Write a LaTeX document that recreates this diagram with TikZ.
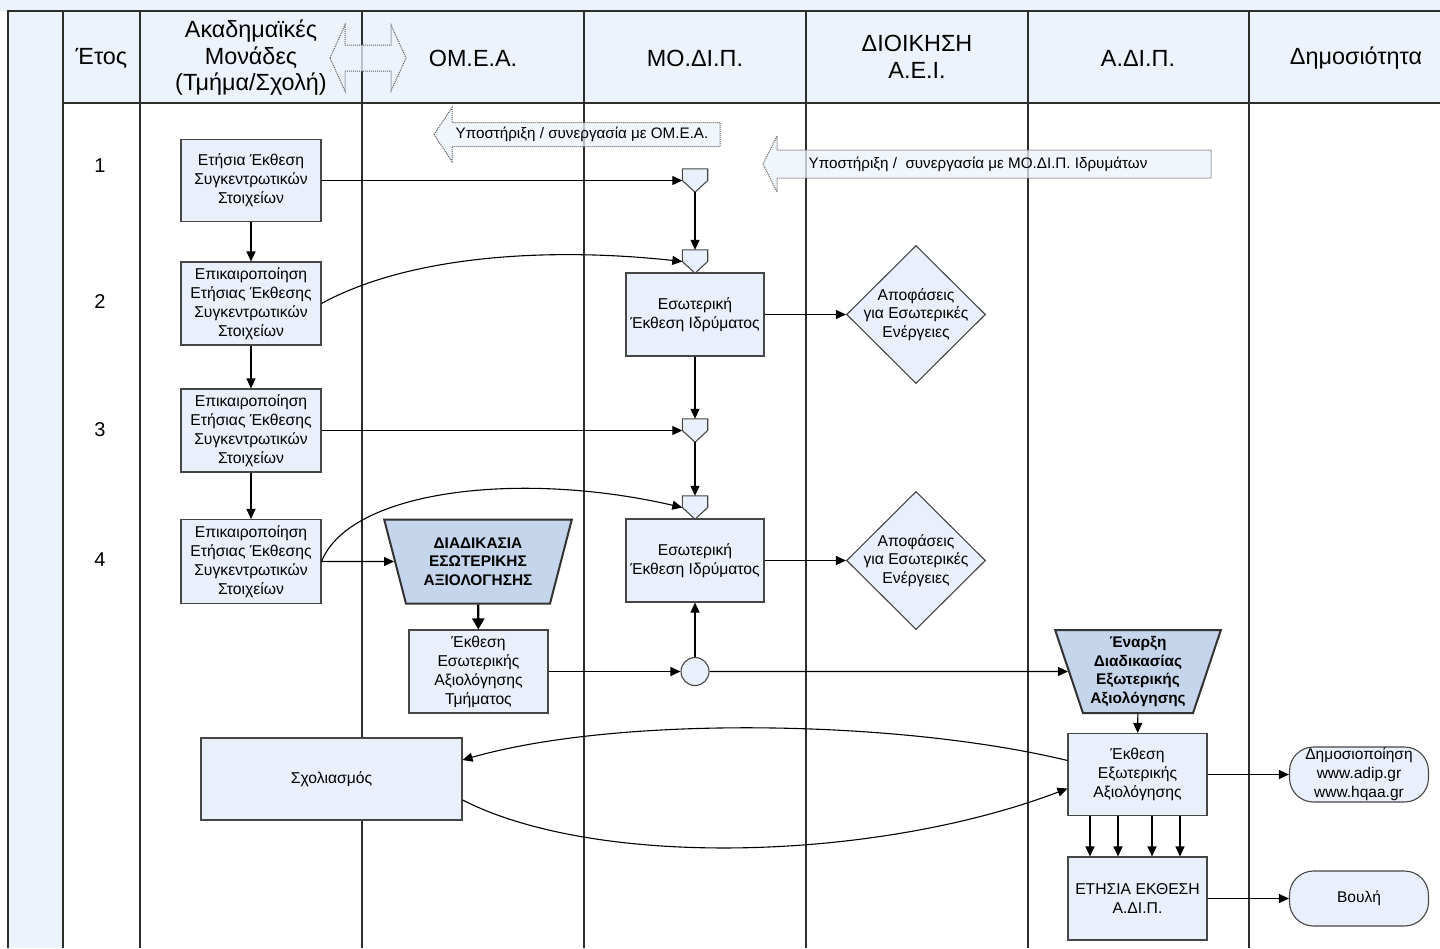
\documentclass[tikz,border=0pt]{standalone}
\usepackage{fontspec}
\setmainfont{Liberation Sans}
\usetikzlibrary{arrows.meta,shapes.geometric,calc}
\definecolor{lightbg}{RGB}{237,243,252}
\definecolor{boxfill}{RGB}{233,240,251}
\definecolor{trapfill}{RGB}{197,213,236}
\definecolor{bordc}{RGB}{70,70,70}
\definecolor{lanec}{RGB}{45,45,45}
\definecolor{dotc}{RGB}{95,95,95}
\begin{document}
\begin{tikzpicture}[x=1pt,y=-1pt,
  proc/.style={rectangle, draw=bordc, fill=boxfill, line width=1.1pt, align=center, inner sep=0pt, font=\fontsize{15.7}{19}\selectfont},
  trap/.style={trapezium, trapezium left angle=71, trapezium right angle=71, shape border rotate=180, trapezium stretches=true, draw=black!80, fill=trapfill, line width=2pt, align=center, inner sep=0pt, font=\fontsize{15.4}{18.5}\selectfont\bfseries},
  decis/.style={diamond, draw=bordc, fill=boxfill, line width=1.1pt, inner sep=0pt, minimum width=139pt, minimum height=138pt},
  dtext/.style={align=center, inner sep=0pt, font=\fontsize{15.7}{18.5}\selectfont},
  term/.style={rectangle, rounded corners=24pt, draw=bordc, fill=boxfill, line width=1.1pt, align=center, inner sep=0pt, minimum width=139pt, minimum height=55pt, font=\fontsize{15.5}{19}\selectfont},
  mergebox/.style={rectangle, draw=none, inner sep=0pt, minimum width=25pt, minimum height=23pt},
  mergeline/.style={draw=bordc, fill=boxfill, line width=1.1pt, line join=miter},
  hdr/.style={align=center, inner sep=0pt, font=\fontsize{23.4}{26.5}\selectfont},
  yr/.style={inner sep=0pt, font=\fontsize{20}{24}\selectfont},
  smalltxt/.style={inner sep=0pt, font=\fontsize{15.2}{17}\selectfont},
  dotarrow/.style={draw=dotc, densely dotted, line width=1pt, fill=lightbg, fill opacity=0.75},
  lane/.style={draw=lanec, line width=1.2pt},
  arr/.style={-{Triangle[length=10pt,width=9pt]}, line width=1.1pt, black},
  arrthick/.style={-{Triangle[length=11pt,width=12pt]}, line width=2.4pt, black}
]
\useasboundingbox (0,0) rectangle (1440,948);
% backgrounds
\fill[white] (0,0) rectangle (1440,948);
\fill[lightbg] (0,0) rectangle (1440,11);
\fill[lightbg] (8,11) rectangle (63,948);
\fill[lightbg] (63,11) rectangle (1440,103);
% lanes
\foreach \lx in {140,362,584,806,1028,1249} \draw[lane] (\lx,11) -- (\lx,948);
\draw[lane] (63,103) -- (1440,103);
\draw[lanec, line width=2pt] (63,11) -- (63,948);
\draw[lanec, line width=2.6pt] (1440,11) -- (8,11) -- (8,948);

% header
\node[hdr] (h0) at (101.5,58) {Έτος};
\node[hdr] (h1) at (251,58) {Ακαδημαϊκές\\Μονάδες\\(Τμήμα/Σχολή)};
\node[hdr] (h2) at (473,58) {ΟΜ.Ε.Α.};
\node[hdr] (h3) at (695,58) {ΜΟ.ΔΙ.Π.};
\node[hdr] (h4) at (917,57) {ΔΙΟΙΚΗΣΗ\\Α.Ε.Ι.};
\node[hdr] (h5) at (1138,58) {Α.ΔΙ.Π.};
\node[hdr] (h6) at (1356,58) {Δημοσιότητα};

% dotted arrows
\path[dotarrow] (330,58) -- (345,25) -- (345,45) -- (391,45) -- (391,25) -- (406,58) -- (391,91) -- (391,71) -- (345,71) -- (345,91) -- cycle;
\path[dotarrow] (434,134.5) -- (452,107.5) -- (452,122.5) -- (720,122.5) -- (720,146.5) -- (452,146.5) -- (452,161.5) -- cycle;
\node[smalltxt] (s1) at (582,134.5) {Υποστήριξη / συνεργασία με ΟΜ.Ε.Α.};
\path[dotarrow] (763,164) -- (777,136) -- (777,150) -- (1211,150) -- (1211,178) -- (777,178) -- (777,192) -- cycle;
\node[smalltxt] (s2) at (978,164) {Υποστήριξη /\ \ συνεργασία με ΜΟ.ΔΙ.Π. Ιδρυμάτων};

% years
\node[yr] (y1) at (100,166) {1};
\node[yr] (y2) at (100,302) {2};
\node[yr] (y3) at (100,430) {3};
\node[yr] (y4) at (100,560) {4};

% academic units
\node[proc, minimum width=140pt, minimum height=82pt] (a1) at (251,180.5) {Ετήσια Έκθεση\\Συγκεντρωτικών\\Στοιχείων};
\node[proc, minimum width=140pt, minimum height=83pt] (a2) at (251,303.5) {Επικαιροποίηση\\Ετήσιας Έκθεσης\\Συγκεντρωτικών\\Στοιχείων};
\node[proc, minimum width=140pt, minimum height=83pt] (a3) at (251,430.5) {Επικαιροποίηση\\Ετήσιας Έκθεσης\\Συγκεντρωτικών\\Στοιχείων};
\node[proc, minimum width=140pt, minimum height=84pt] (a4) at (251,561.5) {Επικαιροποίηση\\Ετήσιας Έκθεσης\\Συγκεντρωτικών\\Στοιχείων};

% MODIP
\node[proc, minimum width=138pt, minimum height=83pt] (b1) at (695,314.5) {Εσωτερική\\Έκθεση Ιδρύματος};
\node[proc, minimum width=138pt, minimum height=83pt] (b2) at (695,560.5) {Εσωτερική\\Έκθεση Ιδρύματος};
\node[mergebox] (m1) at (695,180.5) {};
\node[mergebox] (m2) at (695,261.5) {};
\node[mergebox] (m3) at (695,430.5) {};
\node[mergebox] (m4) at (695,507.5) {};
\foreach \m in {m1,m2,m3,m4}
  \path[mergeline] (\m.north west) -- (\m.north east) -- (\m.east) -- (\m.south) -- (\m.west) -- cycle;
\node[circle, draw=bordc, fill=boxfill, line width=1.1pt, minimum size=28pt, inner sep=0pt] (c) at (695,671.5) {};

% decisions
\node[decis] (d1) at (916,314.5) {};
\node[dtext] (d1t) at (916,314.5) {Αποφάσεις\\για Εσωτερικές\\Ενέργειες};
\node[decis] (d2) at (916,560.5) {};
\node[dtext] (d2t) at (916,560.5) {Αποφάσεις\\για Εσωτερικές\\Ενέργειες};

% OMEA
\node[trap, minimum width=188pt, minimum height=84pt] (t1) at (478,561.5) {ΔΙΑΔΙΚΑΣΙΑ\\ΕΣΩΤΕΡΙΚΗΣ\\ΑΞΙΟΛΟΓΗΣΗΣ};
\node[proc, minimum width=139pt, minimum height=83pt] (e1) at (478.5,671.5) {Έκθεση\\Εσωτερικής\\Αξιολόγησης\\Τμήματος};

% ADIP
\node[trap, minimum width=166pt, minimum height=83pt] (t2) at (1138,671.5) {Έναρξη\\Διαδικασίας\\Εξωτερικής\\Αξιολόγησης};
\node[proc, minimum width=139pt, minimum height=82pt] (f1) at (1137.5,774.5) {Έκθεση\\Εξωτερικής\\Αξιολόγησης};
\node[proc, minimum width=139pt, minimum height=83pt] (g) at (1137.5,898.5) {ΕΤΗΣΙΑ ΕΚΘΕΣΗ\\Α.ΔΙ.Π.};
\node[proc, minimum width=261pt, minimum height=82pt] (sch) at (331.5,779) {Σχολιασμός};

% public
\node[term] (pub) at (1359,774.5) {Δημοσιοποίηση\\www.adip.gr\\www.hqaa.gr};
\node[term] (vouli) at (1359,898.5) {Βουλή};

% connectors
\draw[arr] (a1) -- (a2);
\draw[arr] (a2) -- (a3);
\draw[arr] (a3) -- (a4);
\draw[arr] (a1.east) -- (m1.west);
\draw[arr] (m1.south) -- (m2.north);
\draw[arr] (a2.east) .. controls (410,255) and (550,247) .. (m2.west);
\draw[arr] (b1.east) -- (d1.west);
\draw[arr] (b1.south) -- (m3.north);
\draw[arr] (a3.east) -- (m3.west);
\draw[arr] (m3.south) -- (m4.north);
\draw[arr] (a4.east) .. controls (350,490) and (520,470) .. (m4.west);
\draw[arr] (a4.east) -- (t1);
\draw[arrthick] (t1) -- (e1);
\draw[arr] (b2.east) -- (d2.west);
\draw[arr] (e1.east) -- (c.west);
\draw[arr] (c.north) -- (b2.south);
\draw[arr] (c.east) -- (t2);
\draw[arr] (t2) -- (f1);
\draw[arr] ([yshift=14pt]f1.west) .. controls (900,720) and (620,715) .. ([yshift=19pt]sch.east);
\draw[arr] ([yshift=-21pt]sch.east) .. controls (600,870) and (880,860) .. ([yshift=-14pt]f1.west);
\draw[arr] (f1.east) -- (pub.west);
\foreach \dx in {-47.5,-19.5,14.5,42.5}
  \draw[arr] ([xshift=\dx pt]f1.south) -- ([xshift=\dx pt]g.north);
\draw[arr] (g.east) -- (vouli.west);
\end{tikzpicture}
\end{document}
